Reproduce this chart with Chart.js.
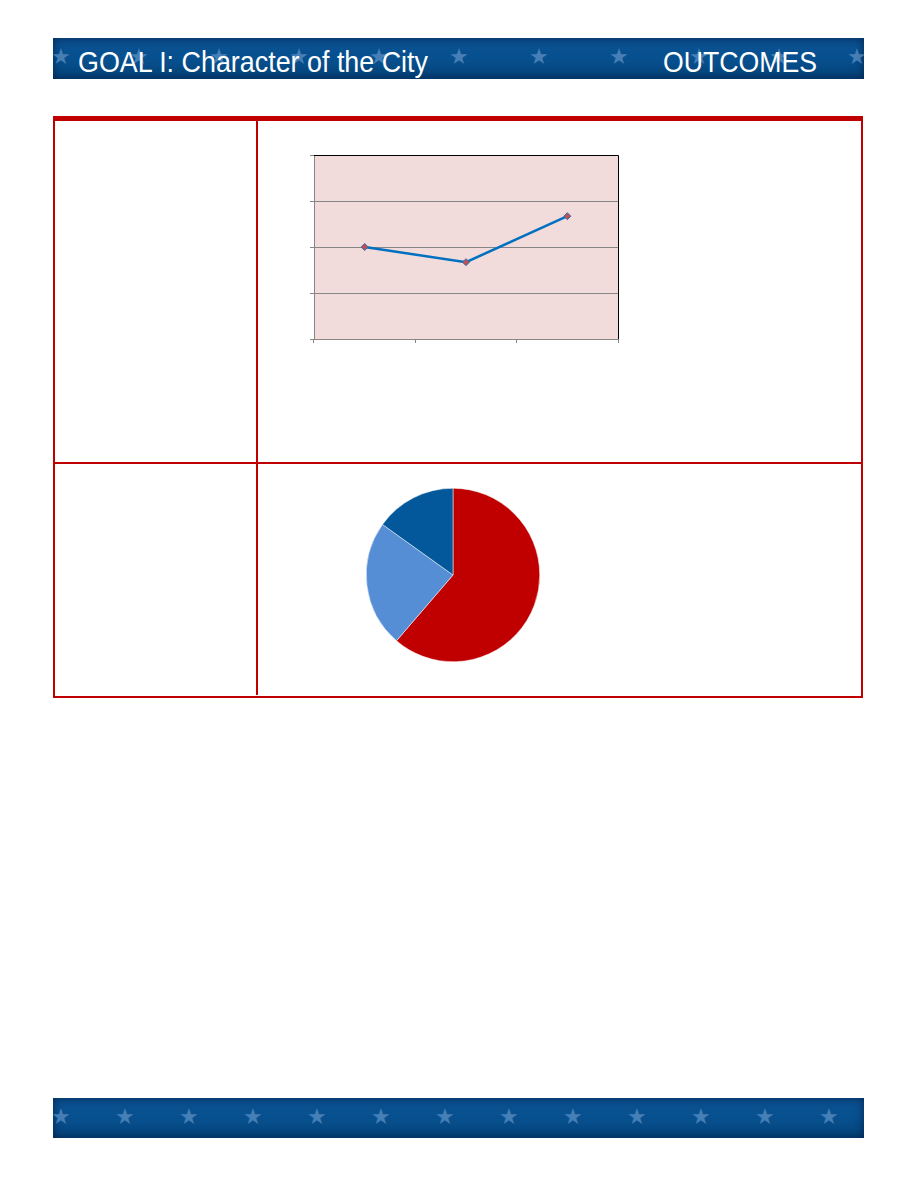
<!DOCTYPE html>
<html><head><meta charset="utf-8">
<script src="https://cdn.jsdelivr.net/npm/chart.js@4"></script>
<style>
html,body{margin:0;padding:0;background:#fff;width:918px;height:1188px;overflow:hidden;}
.banner{position:absolute;left:53px;width:811px;background:linear-gradient(180deg,#0b5291 0%,#07508f 50%,#044379 100%);box-shadow:inset 0 0 10px rgba(0,20,60,0.7);overflow:hidden;}
.star{position:absolute;color:rgba(125,170,215,0.55);font-family:"DejaVu Sans";font-size:22px;line-height:22px;}
.btxt{position:absolute;color:#fff;font-family:"Liberation Sans Narrow","Liberation Sans",Arial,sans-serif;font-size:29px;line-height:29px;white-space:nowrap;transform-origin:0 0;}
.tbl{position:absolute;border-color:#c00000;border-style:solid;}
</style></head><body>
<div class="banner" id="topBanner" style="top:38px;height:41px;"></div>
<div class="banner" id="botBanner" style="top:1098px;height:40px;"></div>

<div class="tbl" style="left:53px;top:116px;width:806px;height:575px;border-width:5px 2px 2px 2px;"></div>
<div style="position:absolute;left:256px;top:120px;width:2px;height:575px;background:#c00000;"></div>
<div style="position:absolute;left:54px;top:462px;width:808px;height:2px;background:#c00000;"></div>

<div style="position:absolute;left:300px;top:145px;width:330px;height:210px;"><canvas id="line"></canvas></div>
<div style="position:absolute;left:363px;top:485px;width:180px;height:180px;"><canvas id="pie"></canvas></div>

<script>
const lineCategories = ['1', '2', '3'];
const lineValues = [2.0, 1.67, 2.67];
const yMin = 0, yMax = 4, yStep = 1;
const pieCategories = ['A', 'B', 'C'];
const pieValues = [61.3, 23.6, 15.1];
const pieColors = ['#c00000', '#558ed5', '#02589a'];
const titleLeft = 'GOAL I: Character of the City';
const titleRight = 'OUTCOMES';

(function(){
function stars(el, xs, y){ xs.forEach(x=>{const s=document.createElement('div');s.className='star';s.textContent='★';s.style.left=(x-53-11)+'px';s.style.top=y+'px';el.appendChild(s);}); }
const tb=document.getElementById('topBanner'), bb=document.getElementById('botBanner');
stars(tb,[62,140,220,300,380,460,540,620,700,780,858],8);
stars(bb,[62,126,190,254,318,382,446,510,574,638,702,766,830],8);
function txt(el,t,x,y,w){const d=document.createElement('div');d.className='btxt';d.textContent=t;d.style.left=(x-53)+'px';d.style.top=y+'px';el.appendChild(d);const r=d.getBoundingClientRect().width;d.style.transform='scaleX('+(w/r)+')';}
txt(tb,titleLeft,78,10,350);
txt(tb,titleRight,663,10,154);
})();

const bgPlugin={id:'bg',beforeDraw(c){const a=c.chartArea,ctx=c.ctx;ctx.save();ctx.fillStyle='#f2dcdb';ctx.fillRect(a.left,a.top,a.right-a.left,a.bottom-a.top);ctx.restore();},
 afterDraw(c){const a=c.chartArea,ctx=c.ctx;ctx.save();ctx.strokeStyle='#000';ctx.lineWidth=1;ctx.beginPath();ctx.moveTo(a.left,a.top+0.5);ctx.lineTo(a.right+0.5,a.top+0.5);ctx.lineTo(a.right+0.5,a.bottom);ctx.stroke();ctx.restore();}};

new Chart(document.getElementById('line'),{
 type:'line',
 data:{labels:lineCategories,datasets:[{data:lineValues,borderColor:'#0070c0',borderWidth:2.5,pointStyle:'rectRot',pointRadius:3.5,pointBackgroundColor:'#c0504d',pointBorderColor:'#2f6fb5',pointBorderWidth:1,tension:0}]},
 options:{responsive:true,maintainAspectRatio:false,animation:false,
  layout:{padding:{left:10,top:10,right:12,bottom:12}},
  plugins:{legend:{display:false},tooltip:{enabled:false}},
  scales:{
   x:{offset:true,grid:{offset:true,drawOnChartArea:false,drawTicks:true,tickLength:4,color:'#868686'},border:{color:'#868686',width:1},ticks:{display:false},afterFit(s){s.height=4;}},
   y:{min:yMin,max:yMax,ticks:{display:false,stepSize:yStep},grid:{color:'#868686',tickLength:4,drawTicks:true},border:{color:'#868686',width:1},afterFit(s){s.width=4;}}
  }},
 plugins:[bgPlugin]
});

new Chart(document.getElementById('pie'),{
 type:'pie',
 data:{labels:pieCategories,datasets:[{data:pieValues,backgroundColor:pieColors,borderColor:'#ffffff',borderWidth:0.5}]},
 options:{responsive:true,maintainAspectRatio:false,animation:false,layout:{padding:3},
  plugins:{legend:{display:false},tooltip:{enabled:false}}}
});
</script>
</body></html>
